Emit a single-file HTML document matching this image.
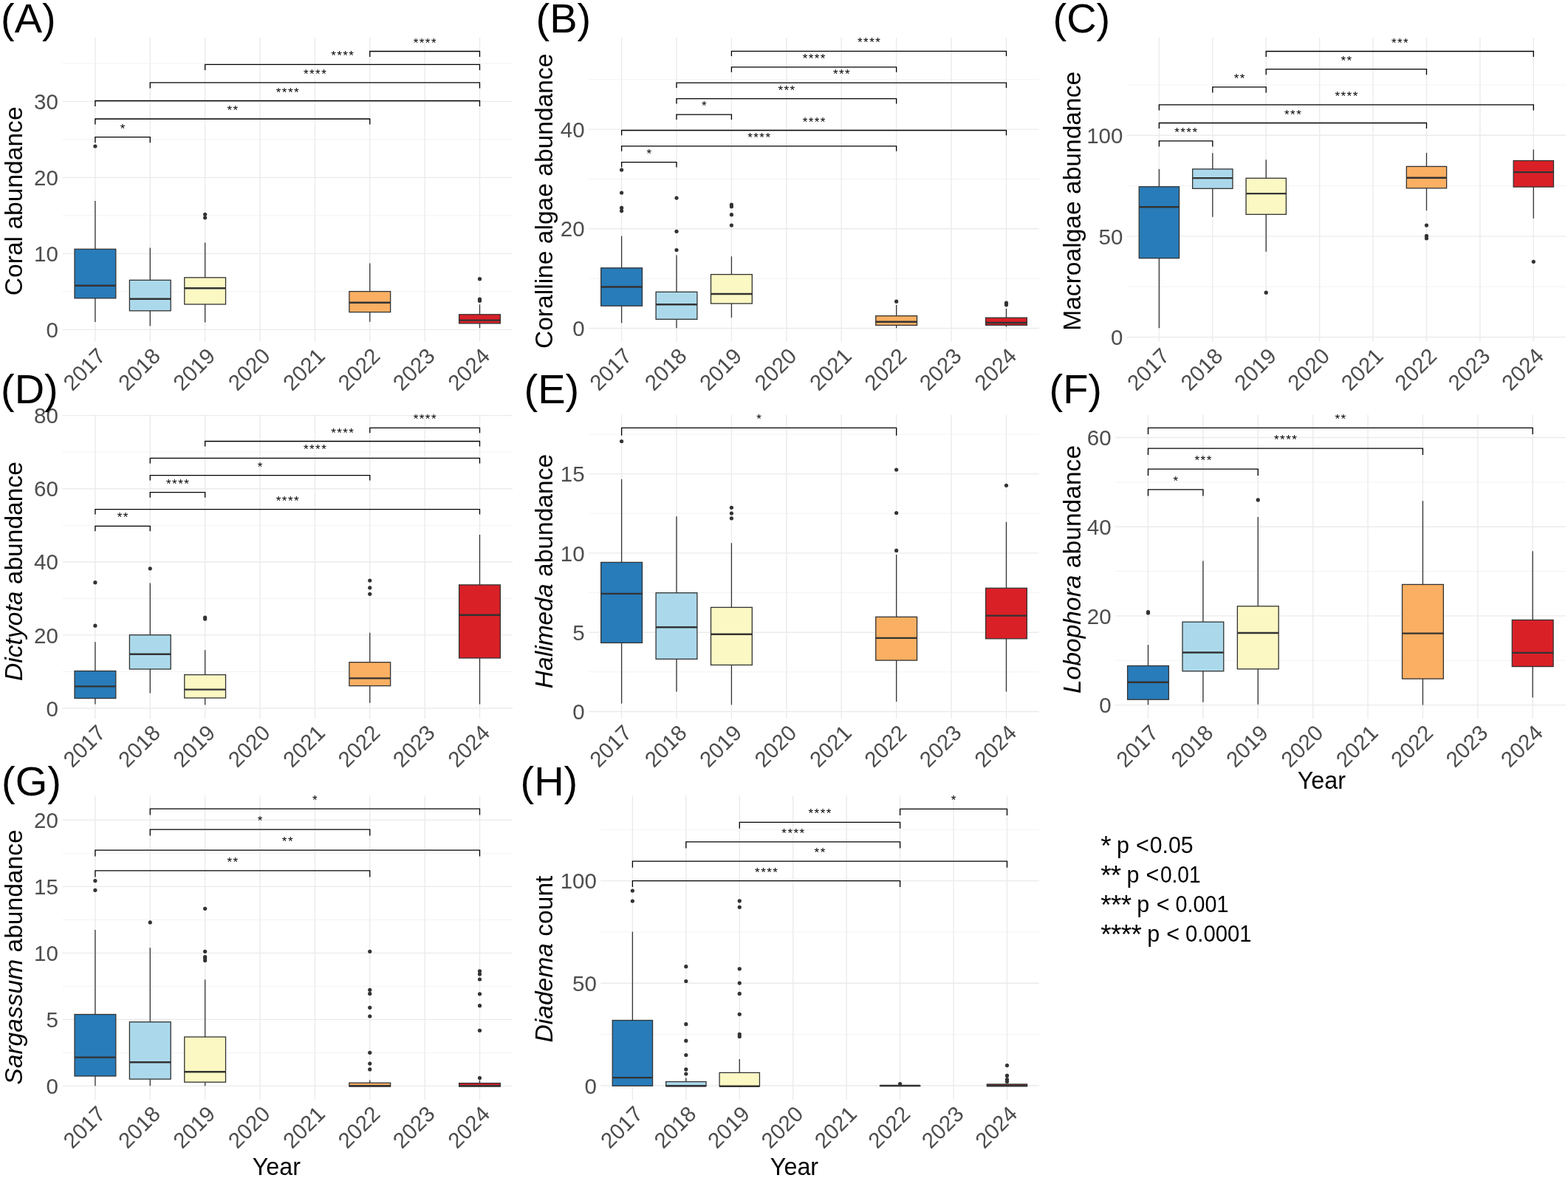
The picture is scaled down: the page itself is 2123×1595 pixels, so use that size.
<!DOCTYPE html>
<html><head><meta charset="utf-8"><title>Figure</title>
<style>html,body{margin:0;padding:0;background:#fff;overflow:hidden;}svg{display:block;}text{font-family:'Liberation Sans', Arial, Helvetica, sans-serif;}</style></head><body>
<svg width="2123" height="1595" viewBox="0 0 2123 1595">
<rect width="2123" height="1595" fill="#fff"/>
<g id="panelA">
<line x1="84.3" y1="394.9" x2="693.9" y2="394.9" stroke="#F3F3F3" stroke-width="1.0"/>
<line x1="84.3" y1="291.9" x2="693.9" y2="291.9" stroke="#F3F3F3" stroke-width="1.0"/>
<line x1="84.3" y1="188.9" x2="693.9" y2="188.9" stroke="#F3F3F3" stroke-width="1.0"/>
<line x1="84.3" y1="85.9" x2="693.9" y2="85.9" stroke="#F3F3F3" stroke-width="1.0"/>
<line x1="84.3" y1="446.4" x2="693.9" y2="446.4" stroke="#EBEBEB" stroke-width="1.4"/>
<line x1="84.3" y1="343.4" x2="693.9" y2="343.4" stroke="#EBEBEB" stroke-width="1.4"/>
<line x1="84.3" y1="240.4" x2="693.9" y2="240.4" stroke="#EBEBEB" stroke-width="1.4"/>
<line x1="84.3" y1="137.4" x2="693.9" y2="137.4" stroke="#EBEBEB" stroke-width="1.4"/>
<line x1="128.9" y1="51" x2="128.9" y2="462.8" stroke="#EBEBEB" stroke-width="1.4"/>
<line x1="203.27" y1="51" x2="203.27" y2="462.8" stroke="#EBEBEB" stroke-width="1.4"/>
<line x1="277.64" y1="51" x2="277.64" y2="462.8" stroke="#EBEBEB" stroke-width="1.4"/>
<line x1="352.01" y1="51" x2="352.01" y2="462.8" stroke="#EBEBEB" stroke-width="1.4"/>
<line x1="426.39" y1="51" x2="426.39" y2="462.8" stroke="#EBEBEB" stroke-width="1.4"/>
<line x1="500.76" y1="51" x2="500.76" y2="462.8" stroke="#EBEBEB" stroke-width="1.4"/>
<line x1="575.13" y1="51" x2="575.13" y2="462.8" stroke="#EBEBEB" stroke-width="1.4"/>
<line x1="649.5" y1="51" x2="649.5" y2="462.8" stroke="#EBEBEB" stroke-width="1.4"/>
<text x="78.9" y="457" font-size="29.5" fill="#4D4D4D" text-anchor="end">0</text>
<text x="78.9" y="354" font-size="29.5" fill="#4D4D4D" text-anchor="end">10</text>
<text x="78.9" y="251" font-size="29.5" fill="#4D4D4D" text-anchor="end">20</text>
<text x="78.9" y="148" font-size="29.5" fill="#4D4D4D" text-anchor="end">30</text>
<text x="144.5" y="484" font-size="29.5" fill="#4D4D4D" text-anchor="end" transform="rotate(-45 144.5 484)">2017</text>
<text x="218.87" y="484" font-size="29.5" fill="#4D4D4D" text-anchor="end" transform="rotate(-45 218.87 484)">2018</text>
<text x="293.24" y="484" font-size="29.5" fill="#4D4D4D" text-anchor="end" transform="rotate(-45 293.24 484)">2019</text>
<text x="367.61" y="484" font-size="29.5" fill="#4D4D4D" text-anchor="end" transform="rotate(-45 367.61 484)">2020</text>
<text x="441.99" y="484" font-size="29.5" fill="#4D4D4D" text-anchor="end" transform="rotate(-45 441.99 484)">2021</text>
<text x="516.36" y="484" font-size="29.5" fill="#4D4D4D" text-anchor="end" transform="rotate(-45 516.36 484)">2022</text>
<text x="590.73" y="484" font-size="29.5" fill="#4D4D4D" text-anchor="end" transform="rotate(-45 590.73 484)">2023</text>
<text x="665.1" y="484" font-size="29.5" fill="#4D4D4D" text-anchor="end" transform="rotate(-45 665.1 484)">2024</text>
<line x1="128.9" y1="272" x2="128.9" y2="337.3" stroke="#333" stroke-width="1.3"/>
<line x1="128.9" y1="403.8" x2="128.9" y2="436" stroke="#333" stroke-width="1.3"/>
<rect x="101.01" y="337.3" width="55.78" height="66.5" fill="#287CB9" stroke="#333" stroke-width="1.3"/>
<line x1="101.01" y1="386.8" x2="156.79" y2="386.8" stroke="#333" stroke-width="2.4"/>
<circle cx="128.9" cy="198" r="2.6" fill="#333"/>
<line x1="203.27" y1="335.6" x2="203.27" y2="379.3" stroke="#333" stroke-width="1.3"/>
<line x1="203.27" y1="420.8" x2="203.27" y2="441.3" stroke="#333" stroke-width="1.3"/>
<rect x="175.38" y="379.3" width="55.78" height="41.5" fill="#ABD9EB" stroke="#333" stroke-width="1.3"/>
<line x1="175.38" y1="404.8" x2="231.16" y2="404.8" stroke="#333" stroke-width="2.4"/>
<line x1="277.64" y1="328.5" x2="277.64" y2="375.8" stroke="#333" stroke-width="1.3"/>
<line x1="277.64" y1="412" x2="277.64" y2="436.5" stroke="#333" stroke-width="1.3"/>
<rect x="249.75" y="375.8" width="55.78" height="36.2" fill="#FBF8C3" stroke="#333" stroke-width="1.3"/>
<line x1="249.75" y1="390.2" x2="305.53" y2="390.2" stroke="#333" stroke-width="2.4"/>
<circle cx="277.64" cy="290.3" r="2.6" fill="#333"/>
<circle cx="277.64" cy="294.8" r="2.6" fill="#333"/>
<line x1="500.76" y1="356.5" x2="500.76" y2="394.6" stroke="#333" stroke-width="1.3"/>
<line x1="500.76" y1="422.6" x2="500.76" y2="435.7" stroke="#333" stroke-width="1.3"/>
<rect x="472.87" y="394.6" width="55.78" height="28" fill="#FAAF63" stroke="#333" stroke-width="1.3"/>
<line x1="472.87" y1="409.7" x2="528.65" y2="409.7" stroke="#333" stroke-width="2.4"/>
<line x1="649.5" y1="412.3" x2="649.5" y2="425.8" stroke="#333" stroke-width="1.3"/>
<line x1="649.5" y1="437.9" x2="649.5" y2="444.2" stroke="#333" stroke-width="1.3"/>
<rect x="621.61" y="425.8" width="55.78" height="12.1" fill="#DA2027" stroke="#333" stroke-width="1.3"/>
<line x1="621.61" y1="433.6" x2="677.39" y2="433.6" stroke="#333" stroke-width="2.4"/>
<circle cx="649.5" cy="377.7" r="2.6" fill="#333"/>
<circle cx="649.5" cy="405" r="2.6" fill="#333"/>
<circle cx="649.5" cy="407.3" r="2.6" fill="#333"/>
<path d="M500.76 77.1V69.5H649.5V77.1" fill="none" stroke="#000" stroke-width="1.3"/>
<text x="575.85" y="63.5" font-size="17.0" letter-spacing="1.45" fill="#000" text-anchor="middle">****</text>
<path d="M277.64 94.9V87.3H649.5V94.9" fill="none" stroke="#000" stroke-width="1.3"/>
<text x="464.3" y="81.3" font-size="17.0" letter-spacing="1.45" fill="#000" text-anchor="middle">****</text>
<path d="M203.27 119.5V111.9H649.5V119.5" fill="none" stroke="#000" stroke-width="1.3"/>
<text x="427.11" y="105.9" font-size="17.0" letter-spacing="1.45" fill="#000" text-anchor="middle">****</text>
<path d="M128.9 144.1V136.5H649.5V144.1" fill="none" stroke="#000" stroke-width="1.3"/>
<text x="389.93" y="130.5" font-size="17.0" letter-spacing="1.45" fill="#000" text-anchor="middle">****</text>
<path d="M128.9 168.6V161H500.76V168.6" fill="none" stroke="#000" stroke-width="1.3"/>
<text x="315.55" y="155" font-size="17.0" letter-spacing="1.45" fill="#000" text-anchor="middle">**</text>
<path d="M128.9 193.2V185.6H203.27V193.2" fill="none" stroke="#000" stroke-width="1.3"/>
<text x="166.81" y="179.6" font-size="17.0" letter-spacing="1.45" fill="#000" text-anchor="middle">*</text>
<text x="30.1" y="272.3" font-size="33.6" fill="#000" text-anchor="middle" transform="rotate(-90 30.1 272.3)">Coral abundance</text>
<text x="1" y="43.5" font-size="56.0" fill="#000">(A)</text>
</g>
<g id="panelB">
<line x1="797" y1="377.15" x2="1406.8" y2="377.15" stroke="#F3F3F3" stroke-width="1.0"/>
<line x1="797" y1="242.45" x2="1406.8" y2="242.45" stroke="#F3F3F3" stroke-width="1.0"/>
<line x1="797" y1="107.75" x2="1406.8" y2="107.75" stroke="#F3F3F3" stroke-width="1.0"/>
<line x1="797" y1="444.5" x2="1406.8" y2="444.5" stroke="#EBEBEB" stroke-width="1.4"/>
<line x1="797" y1="309.8" x2="1406.8" y2="309.8" stroke="#EBEBEB" stroke-width="1.4"/>
<line x1="797" y1="175.1" x2="1406.8" y2="175.1" stroke="#EBEBEB" stroke-width="1.4"/>
<line x1="841.6" y1="51" x2="841.6" y2="462.8" stroke="#EBEBEB" stroke-width="1.4"/>
<line x1="916.01" y1="51" x2="916.01" y2="462.8" stroke="#EBEBEB" stroke-width="1.4"/>
<line x1="990.43" y1="51" x2="990.43" y2="462.8" stroke="#EBEBEB" stroke-width="1.4"/>
<line x1="1064.84" y1="51" x2="1064.84" y2="462.8" stroke="#EBEBEB" stroke-width="1.4"/>
<line x1="1139.26" y1="51" x2="1139.26" y2="462.8" stroke="#EBEBEB" stroke-width="1.4"/>
<line x1="1213.67" y1="51" x2="1213.67" y2="462.8" stroke="#EBEBEB" stroke-width="1.4"/>
<line x1="1288.09" y1="51" x2="1288.09" y2="462.8" stroke="#EBEBEB" stroke-width="1.4"/>
<line x1="1362.5" y1="51" x2="1362.5" y2="462.8" stroke="#EBEBEB" stroke-width="1.4"/>
<text x="791.6" y="455.1" font-size="29.5" fill="#4D4D4D" text-anchor="end">0</text>
<text x="791.6" y="320.4" font-size="29.5" fill="#4D4D4D" text-anchor="end">20</text>
<text x="791.6" y="185.7" font-size="29.5" fill="#4D4D4D" text-anchor="end">40</text>
<text x="857.2" y="484" font-size="29.5" fill="#4D4D4D" text-anchor="end" transform="rotate(-45 857.2 484)">2017</text>
<text x="931.61" y="484" font-size="29.5" fill="#4D4D4D" text-anchor="end" transform="rotate(-45 931.61 484)">2018</text>
<text x="1006.03" y="484" font-size="29.5" fill="#4D4D4D" text-anchor="end" transform="rotate(-45 1006.03 484)">2019</text>
<text x="1080.44" y="484" font-size="29.5" fill="#4D4D4D" text-anchor="end" transform="rotate(-45 1080.44 484)">2020</text>
<text x="1154.86" y="484" font-size="29.5" fill="#4D4D4D" text-anchor="end" transform="rotate(-45 1154.86 484)">2021</text>
<text x="1229.27" y="484" font-size="29.5" fill="#4D4D4D" text-anchor="end" transform="rotate(-45 1229.27 484)">2022</text>
<text x="1303.69" y="484" font-size="29.5" fill="#4D4D4D" text-anchor="end" transform="rotate(-45 1303.69 484)">2023</text>
<text x="1378.1" y="484" font-size="29.5" fill="#4D4D4D" text-anchor="end" transform="rotate(-45 1378.1 484)">2024</text>
<line x1="841.6" y1="319.5" x2="841.6" y2="362.8" stroke="#333" stroke-width="1.3"/>
<line x1="841.6" y1="414.2" x2="841.6" y2="437.4" stroke="#333" stroke-width="1.3"/>
<rect x="813.69" y="362.8" width="55.81" height="51.4" fill="#287CB9" stroke="#333" stroke-width="1.3"/>
<line x1="813.69" y1="388.5" x2="869.51" y2="388.5" stroke="#333" stroke-width="2.4"/>
<circle cx="841.6" cy="230" r="2.6" fill="#333"/>
<circle cx="841.6" cy="261" r="2.6" fill="#333"/>
<circle cx="841.6" cy="281.4" r="2.6" fill="#333"/>
<circle cx="841.6" cy="285.6" r="2.6" fill="#333"/>
<line x1="916.01" y1="345.5" x2="916.01" y2="395.3" stroke="#333" stroke-width="1.3"/>
<line x1="916.01" y1="432.3" x2="916.01" y2="444.2" stroke="#333" stroke-width="1.3"/>
<rect x="888.11" y="395.3" width="55.81" height="37" fill="#ABD9EB" stroke="#333" stroke-width="1.3"/>
<line x1="888.11" y1="412.3" x2="943.92" y2="412.3" stroke="#333" stroke-width="2.4"/>
<circle cx="916.01" cy="268.1" r="2.6" fill="#333"/>
<circle cx="916.01" cy="313.3" r="2.6" fill="#333"/>
<circle cx="916.01" cy="338.5" r="2.6" fill="#333"/>
<line x1="990.43" y1="347.2" x2="990.43" y2="371.6" stroke="#333" stroke-width="1.3"/>
<line x1="990.43" y1="411" x2="990.43" y2="430.1" stroke="#333" stroke-width="1.3"/>
<rect x="962.52" y="371.6" width="55.81" height="39.4" fill="#FBF8C3" stroke="#333" stroke-width="1.3"/>
<line x1="962.52" y1="398" x2="1018.33" y2="398" stroke="#333" stroke-width="2.4"/>
<circle cx="990.43" cy="277.1" r="2.6" fill="#333"/>
<circle cx="990.43" cy="279.7" r="2.6" fill="#333"/>
<circle cx="990.43" cy="290.7" r="2.6" fill="#333"/>
<circle cx="990.43" cy="305.1" r="2.6" fill="#333"/>
<line x1="1213.67" y1="413.1" x2="1213.67" y2="427.7" stroke="#333" stroke-width="1.3"/>
<line x1="1213.67" y1="440.4" x2="1213.67" y2="444.2" stroke="#333" stroke-width="1.3"/>
<rect x="1185.77" y="427.7" width="55.81" height="12.7" fill="#FAAF63" stroke="#333" stroke-width="1.3"/>
<line x1="1185.77" y1="435.7" x2="1241.58" y2="435.7" stroke="#333" stroke-width="2.4"/>
<circle cx="1213.67" cy="408.2" r="2.6" fill="#333"/>
<line x1="1362.5" y1="417.9" x2="1362.5" y2="430.2" stroke="#333" stroke-width="1.3"/>
<line x1="1362.5" y1="440.3" x2="1362.5" y2="442.5" stroke="#333" stroke-width="1.3"/>
<rect x="1334.59" y="430.2" width="55.81" height="10.1" fill="#DA2027" stroke="#333" stroke-width="1.3"/>
<line x1="1334.59" y1="437" x2="1390.41" y2="437" stroke="#333" stroke-width="2.4"/>
<circle cx="1362.5" cy="410.2" r="2.6" fill="#333"/>
<circle cx="1362.5" cy="412.8" r="2.6" fill="#333"/>
<path d="M990.43 76.1V69.3H1362.5V76.1" fill="none" stroke="#000" stroke-width="1.3"/>
<text x="1177.19" y="63.3" font-size="17.0" letter-spacing="1.45" fill="#000" text-anchor="middle">****</text>
<path d="M990.43 97.7V90.9H1213.67V97.7" fill="none" stroke="#000" stroke-width="1.3"/>
<text x="1102.77" y="84.9" font-size="17.0" letter-spacing="1.45" fill="#000" text-anchor="middle">****</text>
<path d="M916.01 119V112.2H1362.5V119" fill="none" stroke="#000" stroke-width="1.3"/>
<text x="1139.98" y="106.2" font-size="17.0" letter-spacing="1.45" fill="#000" text-anchor="middle">***</text>
<path d="M916.01 140.5V133.7H1213.67V140.5" fill="none" stroke="#000" stroke-width="1.3"/>
<text x="1065.57" y="127.7" font-size="17.0" letter-spacing="1.45" fill="#000" text-anchor="middle">***</text>
<path d="M916.01 162V155.2H990.43V162" fill="none" stroke="#000" stroke-width="1.3"/>
<text x="953.95" y="149.2" font-size="17.0" letter-spacing="1.45" fill="#000" text-anchor="middle">*</text>
<path d="M841.6 183.3V176.5H1362.5V183.3" fill="none" stroke="#000" stroke-width="1.3"/>
<text x="1102.77" y="170.5" font-size="17.0" letter-spacing="1.45" fill="#000" text-anchor="middle">****</text>
<path d="M841.6 204.7V197.9H1213.67V204.7" fill="none" stroke="#000" stroke-width="1.3"/>
<text x="1028.36" y="191.9" font-size="17.0" letter-spacing="1.45" fill="#000" text-anchor="middle">****</text>
<path d="M841.6 226.4V219.6H916.01V226.4" fill="none" stroke="#000" stroke-width="1.3"/>
<text x="879.53" y="213.6" font-size="17.0" letter-spacing="1.45" fill="#000" text-anchor="middle">*</text>
<text x="748.3" y="272.3" font-size="33.6" fill="#000" text-anchor="middle" transform="rotate(-90 748.3 272.3)">Coralline algae abundance</text>
<text x="725.5" y="43.7" font-size="56.0" fill="#000">(B)</text>
</g>
<g id="panelC">
<line x1="1525.8" y1="388.2" x2="2120" y2="388.2" stroke="#F3F3F3" stroke-width="1.0"/>
<line x1="1525.8" y1="251.6" x2="2120" y2="251.6" stroke="#F3F3F3" stroke-width="1.0"/>
<line x1="1525.8" y1="115" x2="2120" y2="115" stroke="#F3F3F3" stroke-width="1.0"/>
<line x1="1525.8" y1="456.5" x2="2120" y2="456.5" stroke="#EBEBEB" stroke-width="1.4"/>
<line x1="1525.8" y1="319.9" x2="2120" y2="319.9" stroke="#EBEBEB" stroke-width="1.4"/>
<line x1="1525.8" y1="183.3" x2="2120" y2="183.3" stroke="#EBEBEB" stroke-width="1.4"/>
<line x1="1569.4" y1="51" x2="1569.4" y2="462.8" stroke="#EBEBEB" stroke-width="1.4"/>
<line x1="1641.81" y1="51" x2="1641.81" y2="462.8" stroke="#EBEBEB" stroke-width="1.4"/>
<line x1="1714.23" y1="51" x2="1714.23" y2="462.8" stroke="#EBEBEB" stroke-width="1.4"/>
<line x1="1786.64" y1="51" x2="1786.64" y2="462.8" stroke="#EBEBEB" stroke-width="1.4"/>
<line x1="1859.06" y1="51" x2="1859.06" y2="462.8" stroke="#EBEBEB" stroke-width="1.4"/>
<line x1="1931.47" y1="51" x2="1931.47" y2="462.8" stroke="#EBEBEB" stroke-width="1.4"/>
<line x1="2003.89" y1="51" x2="2003.89" y2="462.8" stroke="#EBEBEB" stroke-width="1.4"/>
<line x1="2076.3" y1="51" x2="2076.3" y2="462.8" stroke="#EBEBEB" stroke-width="1.4"/>
<text x="1520.4" y="467.1" font-size="29.5" fill="#4D4D4D" text-anchor="end">0</text>
<text x="1520.4" y="330.5" font-size="29.5" fill="#4D4D4D" text-anchor="end">50</text>
<text x="1520.4" y="193.9" font-size="29.5" fill="#4D4D4D" text-anchor="end">100</text>
<text x="1585" y="484" font-size="29.5" fill="#4D4D4D" text-anchor="end" transform="rotate(-45 1585 484)">2017</text>
<text x="1657.41" y="484" font-size="29.5" fill="#4D4D4D" text-anchor="end" transform="rotate(-45 1657.41 484)">2018</text>
<text x="1729.83" y="484" font-size="29.5" fill="#4D4D4D" text-anchor="end" transform="rotate(-45 1729.83 484)">2019</text>
<text x="1802.24" y="484" font-size="29.5" fill="#4D4D4D" text-anchor="end" transform="rotate(-45 1802.24 484)">2020</text>
<text x="1874.66" y="484" font-size="29.5" fill="#4D4D4D" text-anchor="end" transform="rotate(-45 1874.66 484)">2021</text>
<text x="1947.07" y="484" font-size="29.5" fill="#4D4D4D" text-anchor="end" transform="rotate(-45 1947.07 484)">2022</text>
<text x="2019.49" y="484" font-size="29.5" fill="#4D4D4D" text-anchor="end" transform="rotate(-45 2019.49 484)">2023</text>
<text x="2091.9" y="484" font-size="29.5" fill="#4D4D4D" text-anchor="end" transform="rotate(-45 2091.9 484)">2024</text>
<line x1="1569.4" y1="228.9" x2="1569.4" y2="252.8" stroke="#333" stroke-width="1.3"/>
<line x1="1569.4" y1="349.6" x2="1569.4" y2="444.2" stroke="#333" stroke-width="1.3"/>
<rect x="1542.24" y="252.8" width="54.31" height="96.8" fill="#287CB9" stroke="#333" stroke-width="1.3"/>
<line x1="1542.24" y1="280.2" x2="1596.56" y2="280.2" stroke="#333" stroke-width="2.4"/>
<line x1="1641.81" y1="207.2" x2="1641.81" y2="228.9" stroke="#333" stroke-width="1.3"/>
<line x1="1641.81" y1="255.3" x2="1641.81" y2="293.7" stroke="#333" stroke-width="1.3"/>
<rect x="1614.66" y="228.9" width="54.31" height="26.4" fill="#ABD9EB" stroke="#333" stroke-width="1.3"/>
<line x1="1614.66" y1="241.1" x2="1668.97" y2="241.1" stroke="#333" stroke-width="2.4"/>
<line x1="1714.23" y1="216.2" x2="1714.23" y2="241.3" stroke="#333" stroke-width="1.3"/>
<line x1="1714.23" y1="290.3" x2="1714.23" y2="340.7" stroke="#333" stroke-width="1.3"/>
<rect x="1687.07" y="241.3" width="54.31" height="49" fill="#FBF8C3" stroke="#333" stroke-width="1.3"/>
<line x1="1687.07" y1="262.1" x2="1741.38" y2="262.1" stroke="#333" stroke-width="2.4"/>
<circle cx="1714.23" cy="396.2" r="2.6" fill="#333"/>
<line x1="1931.47" y1="206.9" x2="1931.47" y2="225.4" stroke="#333" stroke-width="1.3"/>
<line x1="1931.47" y1="254.8" x2="1931.47" y2="285.1" stroke="#333" stroke-width="1.3"/>
<rect x="1904.32" y="225.4" width="54.31" height="29.4" fill="#FAAF63" stroke="#333" stroke-width="1.3"/>
<line x1="1904.32" y1="240.8" x2="1958.63" y2="240.8" stroke="#333" stroke-width="2.4"/>
<circle cx="1931.47" cy="305.1" r="2.6" fill="#333"/>
<circle cx="1931.47" cy="319.3" r="2.6" fill="#333"/>
<circle cx="1931.47" cy="322.7" r="2.6" fill="#333"/>
<line x1="2076.3" y1="202.6" x2="2076.3" y2="217.5" stroke="#333" stroke-width="1.3"/>
<line x1="2076.3" y1="253.1" x2="2076.3" y2="295.8" stroke="#333" stroke-width="1.3"/>
<rect x="2049.14" y="217.5" width="54.31" height="35.6" fill="#DA2027" stroke="#333" stroke-width="1.3"/>
<line x1="2049.14" y1="233.1" x2="2103.46" y2="233.1" stroke="#333" stroke-width="2.4"/>
<circle cx="2076.3" cy="354.3" r="2.6" fill="#333"/>
<path d="M1714.23 77.1V69.5H2076.3V77.1" fill="none" stroke="#000" stroke-width="1.3"/>
<text x="1895.99" y="63.5" font-size="17.0" letter-spacing="1.45" fill="#000" text-anchor="middle">***</text>
<path d="M1714.23 101.2V93.6H1931.47V101.2" fill="none" stroke="#000" stroke-width="1.3"/>
<text x="1823.58" y="87.6" font-size="17.0" letter-spacing="1.45" fill="#000" text-anchor="middle">**</text>
<path d="M1641.81 125.5V117.9H1714.23V125.5" fill="none" stroke="#000" stroke-width="1.3"/>
<text x="1678.75" y="111.9" font-size="17.0" letter-spacing="1.45" fill="#000" text-anchor="middle">**</text>
<path d="M1569.4 149.5V141.9H2076.3V149.5" fill="none" stroke="#000" stroke-width="1.3"/>
<text x="1823.58" y="135.9" font-size="17.0" letter-spacing="1.45" fill="#000" text-anchor="middle">****</text>
<path d="M1569.4 174.1V166.5H1931.47V174.1" fill="none" stroke="#000" stroke-width="1.3"/>
<text x="1751.16" y="160.5" font-size="17.0" letter-spacing="1.45" fill="#000" text-anchor="middle">***</text>
<path d="M1569.4 198.4V190.8H1641.81V198.4" fill="none" stroke="#000" stroke-width="1.3"/>
<text x="1606.33" y="184.8" font-size="17.0" letter-spacing="1.45" fill="#000" text-anchor="middle">****</text>
<text x="1463.4" y="272.3" font-size="33.6" fill="#000" text-anchor="middle" transform="rotate(-90 1463.4 272.3)">Macroalgae abundance</text>
<text x="1425.5" y="43.7" font-size="56.0" fill="#000">(C)</text>
</g>
<g id="panelD">
<line x1="84.3" y1="909.45" x2="693.9" y2="909.45" stroke="#F3F3F3" stroke-width="1.0"/>
<line x1="84.3" y1="810.35" x2="693.9" y2="810.35" stroke="#F3F3F3" stroke-width="1.0"/>
<line x1="84.3" y1="711.25" x2="693.9" y2="711.25" stroke="#F3F3F3" stroke-width="1.0"/>
<line x1="84.3" y1="612.15" x2="693.9" y2="612.15" stroke="#F3F3F3" stroke-width="1.0"/>
<line x1="84.3" y1="959" x2="693.9" y2="959" stroke="#EBEBEB" stroke-width="1.4"/>
<line x1="84.3" y1="859.9" x2="693.9" y2="859.9" stroke="#EBEBEB" stroke-width="1.4"/>
<line x1="84.3" y1="760.8" x2="693.9" y2="760.8" stroke="#EBEBEB" stroke-width="1.4"/>
<line x1="84.3" y1="661.7" x2="693.9" y2="661.7" stroke="#EBEBEB" stroke-width="1.4"/>
<line x1="84.3" y1="562.6" x2="693.9" y2="562.6" stroke="#EBEBEB" stroke-width="1.4"/>
<line x1="128.9" y1="561.4" x2="128.9" y2="973" stroke="#EBEBEB" stroke-width="1.4"/>
<line x1="203.27" y1="561.4" x2="203.27" y2="973" stroke="#EBEBEB" stroke-width="1.4"/>
<line x1="277.64" y1="561.4" x2="277.64" y2="973" stroke="#EBEBEB" stroke-width="1.4"/>
<line x1="352.01" y1="561.4" x2="352.01" y2="973" stroke="#EBEBEB" stroke-width="1.4"/>
<line x1="426.39" y1="561.4" x2="426.39" y2="973" stroke="#EBEBEB" stroke-width="1.4"/>
<line x1="500.76" y1="561.4" x2="500.76" y2="973" stroke="#EBEBEB" stroke-width="1.4"/>
<line x1="575.13" y1="561.4" x2="575.13" y2="973" stroke="#EBEBEB" stroke-width="1.4"/>
<line x1="649.5" y1="561.4" x2="649.5" y2="973" stroke="#EBEBEB" stroke-width="1.4"/>
<text x="78.9" y="969.6" font-size="29.5" fill="#4D4D4D" text-anchor="end">0</text>
<text x="78.9" y="870.5" font-size="29.5" fill="#4D4D4D" text-anchor="end">20</text>
<text x="78.9" y="771.4" font-size="29.5" fill="#4D4D4D" text-anchor="end">40</text>
<text x="78.9" y="672.3" font-size="29.5" fill="#4D4D4D" text-anchor="end">60</text>
<text x="78.9" y="573.2" font-size="29.5" fill="#4D4D4D" text-anchor="end">80</text>
<text x="144.5" y="994.2" font-size="29.5" fill="#4D4D4D" text-anchor="end" transform="rotate(-45 144.5 994.2)">2017</text>
<text x="218.87" y="994.2" font-size="29.5" fill="#4D4D4D" text-anchor="end" transform="rotate(-45 218.87 994.2)">2018</text>
<text x="293.24" y="994.2" font-size="29.5" fill="#4D4D4D" text-anchor="end" transform="rotate(-45 293.24 994.2)">2019</text>
<text x="367.61" y="994.2" font-size="29.5" fill="#4D4D4D" text-anchor="end" transform="rotate(-45 367.61 994.2)">2020</text>
<text x="441.99" y="994.2" font-size="29.5" fill="#4D4D4D" text-anchor="end" transform="rotate(-45 441.99 994.2)">2021</text>
<text x="516.36" y="994.2" font-size="29.5" fill="#4D4D4D" text-anchor="end" transform="rotate(-45 516.36 994.2)">2022</text>
<text x="590.73" y="994.2" font-size="29.5" fill="#4D4D4D" text-anchor="end" transform="rotate(-45 590.73 994.2)">2023</text>
<text x="665.1" y="994.2" font-size="29.5" fill="#4D4D4D" text-anchor="end" transform="rotate(-45 665.1 994.2)">2024</text>
<line x1="128.9" y1="869.2" x2="128.9" y2="908.5" stroke="#333" stroke-width="1.3"/>
<line x1="128.9" y1="945.5" x2="128.9" y2="953.5" stroke="#333" stroke-width="1.3"/>
<rect x="101.01" y="908.5" width="55.78" height="37" fill="#287CB9" stroke="#333" stroke-width="1.3"/>
<line x1="101.01" y1="929.4" x2="156.79" y2="929.4" stroke="#333" stroke-width="2.4"/>
<circle cx="128.9" cy="788.7" r="2.6" fill="#333"/>
<circle cx="128.9" cy="847.2" r="2.6" fill="#333"/>
<line x1="203.27" y1="789.5" x2="203.27" y2="859.7" stroke="#333" stroke-width="1.3"/>
<line x1="203.27" y1="906" x2="203.27" y2="938.6" stroke="#333" stroke-width="1.3"/>
<rect x="175.38" y="859.7" width="55.78" height="46.3" fill="#ABD9EB" stroke="#333" stroke-width="1.3"/>
<line x1="175.38" y1="885.7" x2="231.16" y2="885.7" stroke="#333" stroke-width="2.4"/>
<circle cx="203.27" cy="769.8" r="2.6" fill="#333"/>
<line x1="277.64" y1="880.2" x2="277.64" y2="913.6" stroke="#333" stroke-width="1.3"/>
<line x1="277.64" y1="945" x2="277.64" y2="954.3" stroke="#333" stroke-width="1.3"/>
<rect x="249.75" y="913.6" width="55.78" height="31.4" fill="#FBF8C3" stroke="#333" stroke-width="1.3"/>
<line x1="249.75" y1="933.6" x2="305.53" y2="933.6" stroke="#333" stroke-width="2.4"/>
<circle cx="277.64" cy="836.1" r="2.6" fill="#333"/>
<circle cx="277.64" cy="838.1" r="2.6" fill="#333"/>
<line x1="500.76" y1="856.8" x2="500.76" y2="896.7" stroke="#333" stroke-width="1.3"/>
<line x1="500.76" y1="928.6" x2="500.76" y2="951.8" stroke="#333" stroke-width="1.3"/>
<rect x="472.87" y="896.7" width="55.78" height="31.9" fill="#FAAF63" stroke="#333" stroke-width="1.3"/>
<line x1="472.87" y1="918.4" x2="528.65" y2="918.4" stroke="#333" stroke-width="2.4"/>
<circle cx="500.76" cy="786" r="2.6" fill="#333"/>
<circle cx="500.76" cy="795.8" r="2.6" fill="#333"/>
<circle cx="500.76" cy="804.3" r="2.6" fill="#333"/>
<line x1="649.5" y1="724" x2="649.5" y2="791.9" stroke="#333" stroke-width="1.3"/>
<line x1="649.5" y1="891" x2="649.5" y2="953.5" stroke="#333" stroke-width="1.3"/>
<rect x="621.61" y="791.9" width="55.78" height="99.1" fill="#DA2027" stroke="#333" stroke-width="1.3"/>
<line x1="621.61" y1="832.7" x2="677.39" y2="832.7" stroke="#333" stroke-width="2.4"/>
<path d="M500.76 586.3V579.3H649.5V586.3" fill="none" stroke="#000" stroke-width="1.3"/>
<text x="575.85" y="573.3" font-size="17.0" letter-spacing="1.45" fill="#000" text-anchor="middle">****</text>
<path d="M277.64 604.5V597.5H649.5V604.5" fill="none" stroke="#000" stroke-width="1.3"/>
<text x="464.3" y="591.5" font-size="17.0" letter-spacing="1.45" fill="#000" text-anchor="middle">****</text>
<path d="M203.27 627.4V620.4H649.5V627.4" fill="none" stroke="#000" stroke-width="1.3"/>
<text x="427.11" y="614.4" font-size="17.0" letter-spacing="1.45" fill="#000" text-anchor="middle">****</text>
<path d="M203.27 650.6V643.6H500.76V650.6" fill="none" stroke="#000" stroke-width="1.3"/>
<text x="352.74" y="637.6" font-size="17.0" letter-spacing="1.45" fill="#000" text-anchor="middle">*</text>
<path d="M203.27 673.7V666.7H277.64V673.7" fill="none" stroke="#000" stroke-width="1.3"/>
<text x="241.18" y="660.7" font-size="17.0" letter-spacing="1.45" fill="#000" text-anchor="middle">****</text>
<path d="M128.9 696.6V689.6H649.5V696.6" fill="none" stroke="#000" stroke-width="1.3"/>
<text x="389.93" y="683.6" font-size="17.0" letter-spacing="1.45" fill="#000" text-anchor="middle">****</text>
<path d="M128.9 719.3V712.3H203.27V719.3" fill="none" stroke="#000" stroke-width="1.3"/>
<text x="166.81" y="706.3" font-size="17.0" letter-spacing="1.45" fill="#000" text-anchor="middle">**</text>
<text x="29.7" y="773.5" font-size="33.6" fill="#000" text-anchor="middle" transform="rotate(-90 29.7 773.5)"><tspan font-style="italic">Dictyota</tspan> abundance</text>
<text x="1" y="545.8" font-size="56.0" fill="#000">(D)</text>
</g>
<g id="panelE">
<line x1="797" y1="909.85" x2="1406.8" y2="909.85" stroke="#F3F3F3" stroke-width="1.0"/>
<line x1="797" y1="802.55" x2="1406.8" y2="802.55" stroke="#F3F3F3" stroke-width="1.0"/>
<line x1="797" y1="695.25" x2="1406.8" y2="695.25" stroke="#F3F3F3" stroke-width="1.0"/>
<line x1="797" y1="587.95" x2="1406.8" y2="587.95" stroke="#F3F3F3" stroke-width="1.0"/>
<line x1="797" y1="963.5" x2="1406.8" y2="963.5" stroke="#EBEBEB" stroke-width="1.4"/>
<line x1="797" y1="856.2" x2="1406.8" y2="856.2" stroke="#EBEBEB" stroke-width="1.4"/>
<line x1="797" y1="748.9" x2="1406.8" y2="748.9" stroke="#EBEBEB" stroke-width="1.4"/>
<line x1="797" y1="641.6" x2="1406.8" y2="641.6" stroke="#EBEBEB" stroke-width="1.4"/>
<line x1="841.6" y1="561.4" x2="841.6" y2="973" stroke="#EBEBEB" stroke-width="1.4"/>
<line x1="916.01" y1="561.4" x2="916.01" y2="973" stroke="#EBEBEB" stroke-width="1.4"/>
<line x1="990.43" y1="561.4" x2="990.43" y2="973" stroke="#EBEBEB" stroke-width="1.4"/>
<line x1="1064.84" y1="561.4" x2="1064.84" y2="973" stroke="#EBEBEB" stroke-width="1.4"/>
<line x1="1139.26" y1="561.4" x2="1139.26" y2="973" stroke="#EBEBEB" stroke-width="1.4"/>
<line x1="1213.67" y1="561.4" x2="1213.67" y2="973" stroke="#EBEBEB" stroke-width="1.4"/>
<line x1="1288.09" y1="561.4" x2="1288.09" y2="973" stroke="#EBEBEB" stroke-width="1.4"/>
<line x1="1362.5" y1="561.4" x2="1362.5" y2="973" stroke="#EBEBEB" stroke-width="1.4"/>
<text x="791.6" y="974.1" font-size="29.5" fill="#4D4D4D" text-anchor="end">0</text>
<text x="791.6" y="866.8" font-size="29.5" fill="#4D4D4D" text-anchor="end">5</text>
<text x="791.6" y="759.5" font-size="29.5" fill="#4D4D4D" text-anchor="end">10</text>
<text x="791.6" y="652.2" font-size="29.5" fill="#4D4D4D" text-anchor="end">15</text>
<text x="857.2" y="994.2" font-size="29.5" fill="#4D4D4D" text-anchor="end" transform="rotate(-45 857.2 994.2)">2017</text>
<text x="931.61" y="994.2" font-size="29.5" fill="#4D4D4D" text-anchor="end" transform="rotate(-45 931.61 994.2)">2018</text>
<text x="1006.03" y="994.2" font-size="29.5" fill="#4D4D4D" text-anchor="end" transform="rotate(-45 1006.03 994.2)">2019</text>
<text x="1080.44" y="994.2" font-size="29.5" fill="#4D4D4D" text-anchor="end" transform="rotate(-45 1080.44 994.2)">2020</text>
<text x="1154.86" y="994.2" font-size="29.5" fill="#4D4D4D" text-anchor="end" transform="rotate(-45 1154.86 994.2)">2021</text>
<text x="1229.27" y="994.2" font-size="29.5" fill="#4D4D4D" text-anchor="end" transform="rotate(-45 1229.27 994.2)">2022</text>
<text x="1303.69" y="994.2" font-size="29.5" fill="#4D4D4D" text-anchor="end" transform="rotate(-45 1303.69 994.2)">2023</text>
<text x="1378.1" y="994.2" font-size="29.5" fill="#4D4D4D" text-anchor="end" transform="rotate(-45 1378.1 994.2)">2024</text>
<line x1="841.6" y1="648.8" x2="841.6" y2="761.4" stroke="#333" stroke-width="1.3"/>
<line x1="841.6" y1="870.4" x2="841.6" y2="952.6" stroke="#333" stroke-width="1.3"/>
<rect x="813.69" y="761.4" width="55.81" height="109" fill="#287CB9" stroke="#333" stroke-width="1.3"/>
<line x1="813.69" y1="803.9" x2="869.51" y2="803.9" stroke="#333" stroke-width="2.4"/>
<circle cx="841.6" cy="597.5" r="2.6" fill="#333"/>
<line x1="916.01" y1="699.3" x2="916.01" y2="802.7" stroke="#333" stroke-width="1.3"/>
<line x1="916.01" y1="892.4" x2="916.01" y2="936.5" stroke="#333" stroke-width="1.3"/>
<rect x="888.11" y="802.7" width="55.81" height="89.7" fill="#ABD9EB" stroke="#333" stroke-width="1.3"/>
<line x1="888.11" y1="849.2" x2="943.92" y2="849.2" stroke="#333" stroke-width="2.4"/>
<line x1="990.43" y1="735.2" x2="990.43" y2="822.4" stroke="#333" stroke-width="1.3"/>
<line x1="990.43" y1="900.4" x2="990.43" y2="954.3" stroke="#333" stroke-width="1.3"/>
<rect x="962.52" y="822.4" width="55.81" height="78" fill="#FBF8C3" stroke="#333" stroke-width="1.3"/>
<line x1="962.52" y1="858.8" x2="1018.33" y2="858.8" stroke="#333" stroke-width="2.4"/>
<circle cx="990.43" cy="687.3" r="2.6" fill="#333"/>
<circle cx="990.43" cy="695" r="2.6" fill="#333"/>
<circle cx="990.43" cy="701.8" r="2.6" fill="#333"/>
<line x1="1213.67" y1="751" x2="1213.67" y2="835.3" stroke="#333" stroke-width="1.3"/>
<line x1="1213.67" y1="894.1" x2="1213.67" y2="950" stroke="#333" stroke-width="1.3"/>
<rect x="1185.77" y="835.3" width="55.81" height="58.8" fill="#FAAF63" stroke="#333" stroke-width="1.3"/>
<line x1="1185.77" y1="863.9" x2="1241.58" y2="863.9" stroke="#333" stroke-width="2.4"/>
<circle cx="1213.67" cy="636" r="2.6" fill="#333"/>
<circle cx="1213.67" cy="694.5" r="2.6" fill="#333"/>
<circle cx="1213.67" cy="745.4" r="2.6" fill="#333"/>
<line x1="1362.5" y1="706.8" x2="1362.5" y2="796.3" stroke="#333" stroke-width="1.3"/>
<line x1="1362.5" y1="864.8" x2="1362.5" y2="936.5" stroke="#333" stroke-width="1.3"/>
<rect x="1334.59" y="796.3" width="55.81" height="68.5" fill="#DA2027" stroke="#333" stroke-width="1.3"/>
<line x1="1334.59" y1="833.6" x2="1390.41" y2="833.6" stroke="#333" stroke-width="2.4"/>
<circle cx="1362.5" cy="657.3" r="2.6" fill="#333"/>
<path d="M841.6 589.8V579.3H1213.67V589.8" fill="none" stroke="#000" stroke-width="1.3"/>
<text x="1028.36" y="573.3" font-size="17.0" letter-spacing="1.45" fill="#000" text-anchor="middle">*</text>
<text x="748.3" y="773.5" font-size="33.6" fill="#000" text-anchor="middle" transform="rotate(-90 748.3 773.5)"><tspan font-style="italic">Halimeda</tspan> abundance</text>
<text x="709.5" y="545.8" font-size="56.0" fill="#000">(E)</text>
</g>
<g id="panelF">
<line x1="1510" y1="894.25" x2="2120" y2="894.25" stroke="#F3F3F3" stroke-width="1.0"/>
<line x1="1510" y1="773.55" x2="2120" y2="773.55" stroke="#F3F3F3" stroke-width="1.0"/>
<line x1="1510" y1="652.85" x2="2120" y2="652.85" stroke="#F3F3F3" stroke-width="1.0"/>
<line x1="1510" y1="954.6" x2="2120" y2="954.6" stroke="#EBEBEB" stroke-width="1.4"/>
<line x1="1510" y1="833.9" x2="2120" y2="833.9" stroke="#EBEBEB" stroke-width="1.4"/>
<line x1="1510" y1="713.2" x2="2120" y2="713.2" stroke="#EBEBEB" stroke-width="1.4"/>
<line x1="1510" y1="592.5" x2="2120" y2="592.5" stroke="#EBEBEB" stroke-width="1.4"/>
<line x1="1554.5" y1="561.4" x2="1554.5" y2="973" stroke="#EBEBEB" stroke-width="1.4"/>
<line x1="1628.89" y1="561.4" x2="1628.89" y2="973" stroke="#EBEBEB" stroke-width="1.4"/>
<line x1="1703.27" y1="561.4" x2="1703.27" y2="973" stroke="#EBEBEB" stroke-width="1.4"/>
<line x1="1777.66" y1="561.4" x2="1777.66" y2="973" stroke="#EBEBEB" stroke-width="1.4"/>
<line x1="1852.04" y1="561.4" x2="1852.04" y2="973" stroke="#EBEBEB" stroke-width="1.4"/>
<line x1="1926.43" y1="561.4" x2="1926.43" y2="973" stroke="#EBEBEB" stroke-width="1.4"/>
<line x1="2000.81" y1="561.4" x2="2000.81" y2="973" stroke="#EBEBEB" stroke-width="1.4"/>
<line x1="2075.2" y1="561.4" x2="2075.2" y2="973" stroke="#EBEBEB" stroke-width="1.4"/>
<text x="1504.6" y="965.2" font-size="29.5" fill="#4D4D4D" text-anchor="end">0</text>
<text x="1504.6" y="844.5" font-size="29.5" fill="#4D4D4D" text-anchor="end">20</text>
<text x="1504.6" y="723.8" font-size="29.5" fill="#4D4D4D" text-anchor="end">40</text>
<text x="1504.6" y="603.1" font-size="29.5" fill="#4D4D4D" text-anchor="end">60</text>
<text x="1570.1" y="994.2" font-size="29.5" fill="#4D4D4D" text-anchor="end" transform="rotate(-45 1570.1 994.2)">2017</text>
<text x="1644.49" y="994.2" font-size="29.5" fill="#4D4D4D" text-anchor="end" transform="rotate(-45 1644.49 994.2)">2018</text>
<text x="1718.87" y="994.2" font-size="29.5" fill="#4D4D4D" text-anchor="end" transform="rotate(-45 1718.87 994.2)">2019</text>
<text x="1793.26" y="994.2" font-size="29.5" fill="#4D4D4D" text-anchor="end" transform="rotate(-45 1793.26 994.2)">2020</text>
<text x="1867.64" y="994.2" font-size="29.5" fill="#4D4D4D" text-anchor="end" transform="rotate(-45 1867.64 994.2)">2021</text>
<text x="1942.03" y="994.2" font-size="29.5" fill="#4D4D4D" text-anchor="end" transform="rotate(-45 1942.03 994.2)">2022</text>
<text x="2016.41" y="994.2" font-size="29.5" fill="#4D4D4D" text-anchor="end" transform="rotate(-45 2016.41 994.2)">2023</text>
<text x="2090.8" y="994.2" font-size="29.5" fill="#4D4D4D" text-anchor="end" transform="rotate(-45 2090.8 994.2)">2024</text>
<line x1="1554.5" y1="873.1" x2="1554.5" y2="901.5" stroke="#333" stroke-width="1.3"/>
<line x1="1554.5" y1="947.2" x2="1554.5" y2="954.4" stroke="#333" stroke-width="1.3"/>
<rect x="1526.61" y="901.5" width="55.79" height="45.7" fill="#287CB9" stroke="#333" stroke-width="1.3"/>
<line x1="1526.61" y1="923.8" x2="1582.39" y2="923.8" stroke="#333" stroke-width="2.4"/>
<circle cx="1554.5" cy="828.6" r="2.6" fill="#333"/>
<circle cx="1554.5" cy="829.9" r="2.6" fill="#333"/>
<line x1="1628.89" y1="759.5" x2="1628.89" y2="842.1" stroke="#333" stroke-width="1.3"/>
<line x1="1628.89" y1="908.7" x2="1628.89" y2="950.7" stroke="#333" stroke-width="1.3"/>
<rect x="1600.99" y="842.1" width="55.79" height="66.6" fill="#ABD9EB" stroke="#333" stroke-width="1.3"/>
<line x1="1600.99" y1="883.5" x2="1656.78" y2="883.5" stroke="#333" stroke-width="2.4"/>
<line x1="1703.27" y1="700" x2="1703.27" y2="820.8" stroke="#333" stroke-width="1.3"/>
<line x1="1703.27" y1="905.8" x2="1703.27" y2="953.8" stroke="#333" stroke-width="1.3"/>
<rect x="1675.38" y="820.8" width="55.79" height="85" fill="#FBF8C3" stroke="#333" stroke-width="1.3"/>
<line x1="1675.38" y1="857" x2="1731.17" y2="857" stroke="#333" stroke-width="2.4"/>
<circle cx="1703.27" cy="676.9" r="2.6" fill="#333"/>
<line x1="1926.43" y1="678.2" x2="1926.43" y2="791.4" stroke="#333" stroke-width="1.3"/>
<line x1="1926.43" y1="919.1" x2="1926.43" y2="954.5" stroke="#333" stroke-width="1.3"/>
<rect x="1898.53" y="791.4" width="55.79" height="127.7" fill="#FAAF63" stroke="#333" stroke-width="1.3"/>
<line x1="1898.53" y1="857.6" x2="1954.32" y2="857.6" stroke="#333" stroke-width="2.4"/>
<line x1="2075.2" y1="746.2" x2="2075.2" y2="839.4" stroke="#333" stroke-width="1.3"/>
<line x1="2075.2" y1="902.5" x2="2075.2" y2="944.5" stroke="#333" stroke-width="1.3"/>
<rect x="2047.31" y="839.4" width="55.79" height="63.1" fill="#DA2027" stroke="#333" stroke-width="1.3"/>
<line x1="2047.31" y1="883.9" x2="2103.09" y2="883.9" stroke="#333" stroke-width="2.4"/>
<path d="M1554.5 588.1V579.3H2075.2V588.1" fill="none" stroke="#000" stroke-width="1.3"/>
<text x="1815.57" y="573.3" font-size="17.0" letter-spacing="1.45" fill="#000" text-anchor="middle">**</text>
<path d="M1554.5 616V607.2H1926.43V616" fill="none" stroke="#000" stroke-width="1.3"/>
<text x="1741.19" y="601.2" font-size="17.0" letter-spacing="1.45" fill="#000" text-anchor="middle">****</text>
<path d="M1554.5 643.9V635.1H1703.27V643.9" fill="none" stroke="#000" stroke-width="1.3"/>
<text x="1629.61" y="629.1" font-size="17.0" letter-spacing="1.45" fill="#000" text-anchor="middle">***</text>
<path d="M1554.5 671.6V662.8H1628.89V671.6" fill="none" stroke="#000" stroke-width="1.3"/>
<text x="1592.42" y="656.8" font-size="17.0" letter-spacing="1.45" fill="#000" text-anchor="middle">*</text>
<text x="1463.4" y="771" font-size="33.6" fill="#000" text-anchor="middle" transform="rotate(-90 1463.4 771)"><tspan font-style="italic">Lobophora</tspan> abundance</text>
<text x="1420.5" y="545.8" font-size="56.0" fill="#000">(F)</text>
</g>
<g id="panelG">
<line x1="84.3" y1="1425.4" x2="693.9" y2="1425.4" stroke="#F3F3F3" stroke-width="1.0"/>
<line x1="84.3" y1="1335.4" x2="693.9" y2="1335.4" stroke="#F3F3F3" stroke-width="1.0"/>
<line x1="84.3" y1="1245.4" x2="693.9" y2="1245.4" stroke="#F3F3F3" stroke-width="1.0"/>
<line x1="84.3" y1="1155.4" x2="693.9" y2="1155.4" stroke="#F3F3F3" stroke-width="1.0"/>
<line x1="84.3" y1="1470.4" x2="693.9" y2="1470.4" stroke="#EBEBEB" stroke-width="1.4"/>
<line x1="84.3" y1="1380.4" x2="693.9" y2="1380.4" stroke="#EBEBEB" stroke-width="1.4"/>
<line x1="84.3" y1="1290.4" x2="693.9" y2="1290.4" stroke="#EBEBEB" stroke-width="1.4"/>
<line x1="84.3" y1="1200.4" x2="693.9" y2="1200.4" stroke="#EBEBEB" stroke-width="1.4"/>
<line x1="84.3" y1="1110.4" x2="693.9" y2="1110.4" stroke="#EBEBEB" stroke-width="1.4"/>
<line x1="128.9" y1="1077.3" x2="128.9" y2="1489" stroke="#EBEBEB" stroke-width="1.4"/>
<line x1="203.27" y1="1077.3" x2="203.27" y2="1489" stroke="#EBEBEB" stroke-width="1.4"/>
<line x1="277.64" y1="1077.3" x2="277.64" y2="1489" stroke="#EBEBEB" stroke-width="1.4"/>
<line x1="352.01" y1="1077.3" x2="352.01" y2="1489" stroke="#EBEBEB" stroke-width="1.4"/>
<line x1="426.39" y1="1077.3" x2="426.39" y2="1489" stroke="#EBEBEB" stroke-width="1.4"/>
<line x1="500.76" y1="1077.3" x2="500.76" y2="1489" stroke="#EBEBEB" stroke-width="1.4"/>
<line x1="575.13" y1="1077.3" x2="575.13" y2="1489" stroke="#EBEBEB" stroke-width="1.4"/>
<line x1="649.5" y1="1077.3" x2="649.5" y2="1489" stroke="#EBEBEB" stroke-width="1.4"/>
<text x="78.9" y="1481" font-size="29.5" fill="#4D4D4D" text-anchor="end">0</text>
<text x="78.9" y="1391" font-size="29.5" fill="#4D4D4D" text-anchor="end">5</text>
<text x="78.9" y="1301" font-size="29.5" fill="#4D4D4D" text-anchor="end">10</text>
<text x="78.9" y="1211" font-size="29.5" fill="#4D4D4D" text-anchor="end">15</text>
<text x="78.9" y="1121" font-size="29.5" fill="#4D4D4D" text-anchor="end">20</text>
<text x="144.5" y="1510.2" font-size="29.5" fill="#4D4D4D" text-anchor="end" transform="rotate(-45 144.5 1510.2)">2017</text>
<text x="218.87" y="1510.2" font-size="29.5" fill="#4D4D4D" text-anchor="end" transform="rotate(-45 218.87 1510.2)">2018</text>
<text x="293.24" y="1510.2" font-size="29.5" fill="#4D4D4D" text-anchor="end" transform="rotate(-45 293.24 1510.2)">2019</text>
<text x="367.61" y="1510.2" font-size="29.5" fill="#4D4D4D" text-anchor="end" transform="rotate(-45 367.61 1510.2)">2020</text>
<text x="441.99" y="1510.2" font-size="29.5" fill="#4D4D4D" text-anchor="end" transform="rotate(-45 441.99 1510.2)">2021</text>
<text x="516.36" y="1510.2" font-size="29.5" fill="#4D4D4D" text-anchor="end" transform="rotate(-45 516.36 1510.2)">2022</text>
<text x="590.73" y="1510.2" font-size="29.5" fill="#4D4D4D" text-anchor="end" transform="rotate(-45 590.73 1510.2)">2023</text>
<text x="665.1" y="1510.2" font-size="29.5" fill="#4D4D4D" text-anchor="end" transform="rotate(-45 665.1 1510.2)">2024</text>
<line x1="128.9" y1="1259" x2="128.9" y2="1373.5" stroke="#333" stroke-width="1.3"/>
<line x1="128.9" y1="1457" x2="128.9" y2="1470.3" stroke="#333" stroke-width="1.3"/>
<rect x="101.01" y="1373.5" width="55.78" height="83.5" fill="#287CB9" stroke="#333" stroke-width="1.3"/>
<line x1="101.01" y1="1431.6" x2="156.79" y2="1431.6" stroke="#333" stroke-width="2.4"/>
<circle cx="128.9" cy="1192.6" r="2.6" fill="#333"/>
<circle cx="128.9" cy="1205.3" r="2.6" fill="#333"/>
<line x1="203.27" y1="1283.2" x2="203.27" y2="1383.7" stroke="#333" stroke-width="1.3"/>
<line x1="203.27" y1="1461.1" x2="203.27" y2="1470.3" stroke="#333" stroke-width="1.3"/>
<rect x="175.38" y="1383.7" width="55.78" height="77.4" fill="#ABD9EB" stroke="#333" stroke-width="1.3"/>
<line x1="175.38" y1="1438.3" x2="231.16" y2="1438.3" stroke="#333" stroke-width="2.4"/>
<circle cx="203.27" cy="1248.9" r="2.6" fill="#333"/>
<line x1="277.64" y1="1326.4" x2="277.64" y2="1404" stroke="#333" stroke-width="1.3"/>
<line x1="277.64" y1="1465.2" x2="277.64" y2="1470.3" stroke="#333" stroke-width="1.3"/>
<rect x="249.75" y="1404" width="55.78" height="61.2" fill="#FBF8C3" stroke="#333" stroke-width="1.3"/>
<line x1="249.75" y1="1451.3" x2="305.53" y2="1451.3" stroke="#333" stroke-width="2.4"/>
<circle cx="277.64" cy="1230.3" r="2.6" fill="#333"/>
<circle cx="277.64" cy="1288.3" r="2.6" fill="#333"/>
<circle cx="277.64" cy="1295.5" r="2.6" fill="#333"/>
<circle cx="277.64" cy="1297.5" r="2.6" fill="#333"/>
<circle cx="277.64" cy="1300.6" r="2.6" fill="#333"/>
<line x1="500.76" y1="1462.5" x2="500.76" y2="1466.2" stroke="#333" stroke-width="1.3"/>
<line x1="500.76" y1="1471" x2="500.76" y2="1471" stroke="#333" stroke-width="1.3"/>
<rect x="472.87" y="1466.2" width="55.78" height="4.8" fill="#FAAF63" stroke="#333" stroke-width="1.3"/>
<line x1="472.87" y1="1470.3" x2="528.65" y2="1470.3" stroke="#333" stroke-width="2.4"/>
<circle cx="500.76" cy="1288.3" r="2.6" fill="#333"/>
<circle cx="500.76" cy="1340.3" r="2.6" fill="#333"/>
<circle cx="500.76" cy="1345.4" r="2.6" fill="#333"/>
<circle cx="500.76" cy="1364.3" r="2.6" fill="#333"/>
<circle cx="500.76" cy="1376" r="2.6" fill="#333"/>
<circle cx="500.76" cy="1425.3" r="2.6" fill="#333"/>
<circle cx="500.76" cy="1440.1" r="2.6" fill="#333"/>
<circle cx="500.76" cy="1447.9" r="2.6" fill="#333"/>
<line x1="649.5" y1="1462.5" x2="649.5" y2="1466.6" stroke="#333" stroke-width="1.3"/>
<line x1="649.5" y1="1471" x2="649.5" y2="1471" stroke="#333" stroke-width="1.3"/>
<rect x="621.61" y="1466.6" width="55.78" height="4.4" fill="#DA2027" stroke="#333" stroke-width="1.3"/>
<line x1="621.61" y1="1470.3" x2="677.39" y2="1470.3" stroke="#333" stroke-width="2.4"/>
<circle cx="649.5" cy="1314.8" r="2.6" fill="#333"/>
<circle cx="649.5" cy="1318.9" r="2.6" fill="#333"/>
<circle cx="649.5" cy="1326" r="2.6" fill="#333"/>
<circle cx="649.5" cy="1345.8" r="2.6" fill="#333"/>
<circle cx="649.5" cy="1361.7" r="2.6" fill="#333"/>
<circle cx="649.5" cy="1395.3" r="2.6" fill="#333"/>
<circle cx="649.5" cy="1459.5" r="2.6" fill="#333"/>
<path d="M203.27 1103.6V1095.1H649.5V1103.6" fill="none" stroke="#000" stroke-width="1.3"/>
<text x="427.11" y="1089.1" font-size="17.0" letter-spacing="1.45" fill="#000" text-anchor="middle">*</text>
<path d="M203.27 1131.6V1123.1H500.76V1131.6" fill="none" stroke="#000" stroke-width="1.3"/>
<text x="352.74" y="1117.1" font-size="17.0" letter-spacing="1.45" fill="#000" text-anchor="middle">*</text>
<path d="M128.9 1159.6V1151.1H649.5V1159.6" fill="none" stroke="#000" stroke-width="1.3"/>
<text x="389.93" y="1145.1" font-size="17.0" letter-spacing="1.45" fill="#000" text-anchor="middle">**</text>
<path d="M128.9 1187.4V1178.9H500.76V1187.4" fill="none" stroke="#000" stroke-width="1.3"/>
<text x="315.55" y="1172.9" font-size="17.0" letter-spacing="1.45" fill="#000" text-anchor="middle">**</text>
<text x="29.7" y="1296" font-size="33.6" fill="#000" text-anchor="middle" transform="rotate(-90 29.7 1296)"><tspan font-style="italic">Sargassum</tspan> abundance</text>
<text x="2" y="1076.5" font-size="56.0" fill="#000">(G)</text>
</g>
<g id="panelH">
<line x1="813.3" y1="1400.65" x2="1406.8" y2="1400.65" stroke="#F3F3F3" stroke-width="1.0"/>
<line x1="813.3" y1="1261.95" x2="1406.8" y2="1261.95" stroke="#F3F3F3" stroke-width="1.0"/>
<line x1="813.3" y1="1123.25" x2="1406.8" y2="1123.25" stroke="#F3F3F3" stroke-width="1.0"/>
<line x1="813.3" y1="1470" x2="1406.8" y2="1470" stroke="#EBEBEB" stroke-width="1.4"/>
<line x1="813.3" y1="1331.3" x2="1406.8" y2="1331.3" stroke="#EBEBEB" stroke-width="1.4"/>
<line x1="813.3" y1="1192.6" x2="1406.8" y2="1192.6" stroke="#EBEBEB" stroke-width="1.4"/>
<line x1="856.4" y1="1077.3" x2="856.4" y2="1489" stroke="#EBEBEB" stroke-width="1.4"/>
<line x1="928.84" y1="1077.3" x2="928.84" y2="1489" stroke="#EBEBEB" stroke-width="1.4"/>
<line x1="1001.29" y1="1077.3" x2="1001.29" y2="1489" stroke="#EBEBEB" stroke-width="1.4"/>
<line x1="1073.73" y1="1077.3" x2="1073.73" y2="1489" stroke="#EBEBEB" stroke-width="1.4"/>
<line x1="1146.17" y1="1077.3" x2="1146.17" y2="1489" stroke="#EBEBEB" stroke-width="1.4"/>
<line x1="1218.61" y1="1077.3" x2="1218.61" y2="1489" stroke="#EBEBEB" stroke-width="1.4"/>
<line x1="1291.06" y1="1077.3" x2="1291.06" y2="1489" stroke="#EBEBEB" stroke-width="1.4"/>
<line x1="1363.5" y1="1077.3" x2="1363.5" y2="1489" stroke="#EBEBEB" stroke-width="1.4"/>
<text x="807.9" y="1480.6" font-size="29.5" fill="#4D4D4D" text-anchor="end">0</text>
<text x="807.9" y="1341.9" font-size="29.5" fill="#4D4D4D" text-anchor="end">50</text>
<text x="807.9" y="1203.2" font-size="29.5" fill="#4D4D4D" text-anchor="end">100</text>
<text x="872" y="1510.2" font-size="29.5" fill="#4D4D4D" text-anchor="end" transform="rotate(-45 872 1510.2)">2017</text>
<text x="944.44" y="1510.2" font-size="29.5" fill="#4D4D4D" text-anchor="end" transform="rotate(-45 944.44 1510.2)">2018</text>
<text x="1016.89" y="1510.2" font-size="29.5" fill="#4D4D4D" text-anchor="end" transform="rotate(-45 1016.89 1510.2)">2019</text>
<text x="1089.33" y="1510.2" font-size="29.5" fill="#4D4D4D" text-anchor="end" transform="rotate(-45 1089.33 1510.2)">2020</text>
<text x="1161.77" y="1510.2" font-size="29.5" fill="#4D4D4D" text-anchor="end" transform="rotate(-45 1161.77 1510.2)">2021</text>
<text x="1234.21" y="1510.2" font-size="29.5" fill="#4D4D4D" text-anchor="end" transform="rotate(-45 1234.21 1510.2)">2022</text>
<text x="1306.66" y="1510.2" font-size="29.5" fill="#4D4D4D" text-anchor="end" transform="rotate(-45 1306.66 1510.2)">2023</text>
<text x="1379.1" y="1510.2" font-size="29.5" fill="#4D4D4D" text-anchor="end" transform="rotate(-45 1379.1 1510.2)">2024</text>
<line x1="856.4" y1="1261.6" x2="856.4" y2="1381.5" stroke="#333" stroke-width="1.3"/>
<line x1="856.4" y1="1470.3" x2="856.4" y2="1470.3" stroke="#333" stroke-width="1.3"/>
<rect x="829.23" y="1381.5" width="54.33" height="88.8" fill="#287CB9" stroke="#333" stroke-width="1.3"/>
<line x1="829.23" y1="1459.1" x2="883.57" y2="1459.1" stroke="#333" stroke-width="2.4"/>
<circle cx="856.4" cy="1206" r="2.6" fill="#333"/>
<circle cx="856.4" cy="1220" r="2.6" fill="#333"/>
<line x1="928.84" y1="1459.5" x2="928.84" y2="1464.6" stroke="#333" stroke-width="1.3"/>
<line x1="928.84" y1="1470.7" x2="928.84" y2="1470.7" stroke="#333" stroke-width="1.3"/>
<rect x="901.68" y="1464.6" width="54.33" height="6.1" fill="#ABD9EB" stroke="#333" stroke-width="1.3"/>
<line x1="901.68" y1="1470.3" x2="956.01" y2="1470.3" stroke="#333" stroke-width="2.4"/>
<circle cx="928.84" cy="1308.7" r="2.6" fill="#333"/>
<circle cx="928.84" cy="1328.5" r="2.6" fill="#333"/>
<circle cx="928.84" cy="1386.7" r="2.6" fill="#333"/>
<circle cx="928.84" cy="1409.2" r="2.6" fill="#333"/>
<circle cx="928.84" cy="1428.5" r="2.6" fill="#333"/>
<circle cx="928.84" cy="1447.9" r="2.6" fill="#333"/>
<circle cx="928.84" cy="1454" r="2.6" fill="#333"/>
<line x1="1001.29" y1="1434" x2="1001.29" y2="1452.4" stroke="#333" stroke-width="1.3"/>
<line x1="1001.29" y1="1470.7" x2="1001.29" y2="1470.7" stroke="#333" stroke-width="1.3"/>
<rect x="974.12" y="1452.4" width="54.33" height="18.3" fill="#FBF8C3" stroke="#333" stroke-width="1.3"/>
<line x1="974.12" y1="1470.7" x2="1028.45" y2="1470.7" stroke="#333" stroke-width="2.4"/>
<circle cx="1001.29" cy="1219.8" r="2.6" fill="#333"/>
<circle cx="1001.29" cy="1228.3" r="2.6" fill="#333"/>
<circle cx="1001.29" cy="1311.8" r="2.6" fill="#333"/>
<circle cx="1001.29" cy="1331.1" r="2.6" fill="#333"/>
<circle cx="1001.29" cy="1345.4" r="2.6" fill="#333"/>
<circle cx="1001.29" cy="1373.3" r="2.6" fill="#333"/>
<circle cx="1001.29" cy="1400.4" r="2.6" fill="#333"/>
<circle cx="1001.29" cy="1403.5" r="2.6" fill="#333"/>
<line x1="1218.61" y1="1470" x2="1218.61" y2="1470" stroke="#333" stroke-width="1.3"/>
<line x1="1218.61" y1="1470.5" x2="1218.61" y2="1470.5" stroke="#333" stroke-width="1.3"/>
<rect x="1191.45" y="1470" width="54.33" height="0.5" fill="#FAAF63" stroke="#333" stroke-width="1.3"/>
<line x1="1191.45" y1="1470" x2="1245.78" y2="1470" stroke="#333" stroke-width="2.4"/>
<circle cx="1218.61" cy="1467.6" r="2.6" fill="#333"/>
<line x1="1363.5" y1="1468" x2="1363.5" y2="1468" stroke="#333" stroke-width="1.3"/>
<line x1="1363.5" y1="1470.7" x2="1363.5" y2="1470.7" stroke="#333" stroke-width="1.3"/>
<rect x="1336.33" y="1468" width="54.33" height="2.7" fill="#DA2027" stroke="#333" stroke-width="1.3"/>
<line x1="1336.33" y1="1470" x2="1390.67" y2="1470" stroke="#333" stroke-width="2.4"/>
<circle cx="1363.5" cy="1442.6" r="2.6" fill="#333"/>
<circle cx="1363.5" cy="1456.4" r="2.6" fill="#333"/>
<circle cx="1363.5" cy="1461.5" r="2.6" fill="#333"/>
<circle cx="1363.5" cy="1464.6" r="2.6" fill="#333"/>
<path d="M1218.61 1103.9V1095.4H1363.5V1103.9" fill="none" stroke="#000" stroke-width="1.3"/>
<text x="1291.78" y="1089.4" font-size="17.0" letter-spacing="1.45" fill="#000" text-anchor="middle">*</text>
<path d="M1001.29 1121.8V1113.3H1218.61V1121.8" fill="none" stroke="#000" stroke-width="1.3"/>
<text x="1110.67" y="1107.3" font-size="17.0" letter-spacing="1.45" fill="#000" text-anchor="middle">****</text>
<path d="M928.84 1148.4V1139.9H1218.61V1148.4" fill="none" stroke="#000" stroke-width="1.3"/>
<text x="1074.45" y="1133.9" font-size="17.0" letter-spacing="1.45" fill="#000" text-anchor="middle">****</text>
<path d="M856.4 1174.7V1166.2H1363.5V1174.7" fill="none" stroke="#000" stroke-width="1.3"/>
<text x="1110.67" y="1160.2" font-size="17.0" letter-spacing="1.45" fill="#000" text-anchor="middle">**</text>
<path d="M856.4 1201.1V1192.6H1218.61V1201.1" fill="none" stroke="#000" stroke-width="1.3"/>
<text x="1038.23" y="1186.6" font-size="17.0" letter-spacing="1.45" fill="#000" text-anchor="middle">****</text>
<text x="748.3" y="1298.5" font-size="33.6" fill="#000" text-anchor="middle" transform="rotate(-90 748.3 1298.5)"><tspan font-style="italic">Diadema</tspan> count</text>
<text x="704.5" y="1076.5" font-size="56.0" fill="#000">(H)</text>
</g>
<text x="1789.4" y="1067.6" font-size="32.3" fill="#000" text-anchor="middle">Year</text>
<text x="374.3" y="1590.9" font-size="32.3" fill="#000" text-anchor="middle">Year</text>
<text x="1075.5" y="1590.9" font-size="32.3" fill="#000" text-anchor="middle">Year</text>
<text x="1490.2" y="1158" font-size="37.0" fill="#000" textLength="14.4" lengthAdjust="spacing">*</text>
<text x="1512.1" y="1155" font-size="30.5" fill="#000">p</text>
<text x="1538" y="1155" font-size="30.5" fill="#000">&lt;</text>
<text x="1556.8" y="1155" font-size="30.5" fill="#000" textLength="58.9" lengthAdjust="spacingAndGlyphs">0.05</text>
<text x="1490.2" y="1198.2" font-size="37.0" fill="#000" textLength="27.9" lengthAdjust="spacing">**</text>
<text x="1525.6" y="1195.2" font-size="30.5" fill="#000">p</text>
<text x="1551.5" y="1195.2" font-size="30.5" fill="#000">&lt;</text>
<text x="1570.9" y="1195.2" font-size="30.5" fill="#000" textLength="54.8" lengthAdjust="spacingAndGlyphs">0.01</text>
<text x="1490.2" y="1238.3" font-size="37.0" fill="#000" textLength="42" lengthAdjust="spacing">***</text>
<text x="1539.2" y="1235.3" font-size="30.5" fill="#000">p</text>
<text x="1565.7" y="1235.3" font-size="30.5" fill="#000">&lt;</text>
<text x="1591.6" y="1235.3" font-size="30.5" fill="#000" textLength="71.8" lengthAdjust="spacingAndGlyphs">0.001</text>
<text x="1490.2" y="1278.2" font-size="37.0" fill="#000" textLength="55.6" lengthAdjust="spacing">****</text>
<text x="1553.3" y="1275.2" font-size="30.5" fill="#000">p</text>
<text x="1579.2" y="1275.2" font-size="30.5" fill="#000">&lt;</text>
<text x="1605.1" y="1275.2" font-size="30.5" fill="#000" textLength="89.5" lengthAdjust="spacingAndGlyphs">0.0001</text>
</svg></body></html>
